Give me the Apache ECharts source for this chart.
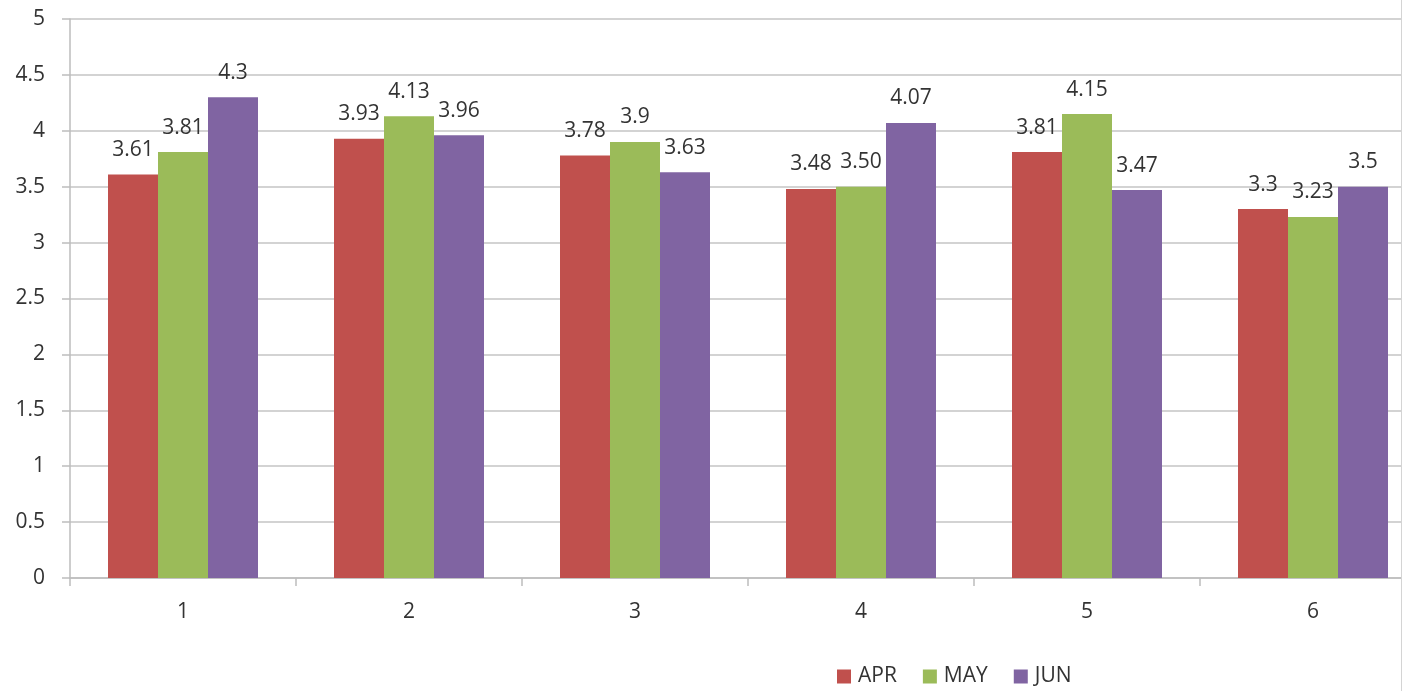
<!DOCTYPE html>
<html>
<head>
<meta charset="utf-8">
<script src="https://cdn.jsdelivr.net/npm/echarts@6/dist/echarts.min.js"></script>
<style>
  html, body { margin: 0; padding: 0; background: #ffffff; overflow: hidden; }
  #wrap { position: absolute; left: 0; top: 0; width: 1401px; height: 691px; overflow: hidden; border-right: 1px solid #d4d4d4; }
  #chart { width: 1450px; height: 691px; }
</style>
</head>
<body>
<div id="wrap"><div id="chart"></div></div>
<script>
const categories = ['1', '2', '3', '4', '5', '6'];
const seriesNames = ['APR', 'MAY', 'JUN'];
const aprValues = [3.61, 3.93, 3.78, 3.48, 3.81, 3.3];
const mayValues = [3.81, 4.13, 3.9, 3.50, 4.15, 3.23];
const junValues = [4.3, 3.96, 3.63, 4.07, 3.47, 3.5];
const aprLabels = ['3.61', '3.93', '3.78', '3.48', '3.81', '3.3'];
const mayLabels = ['3.81', '4.13', '3.9', '3.50', '4.15', '3.23'];
const junLabels = ['4.3', '3.96', '3.63', '4.07', '3.47', '3.5'];
const yTicks = ['0', '0.5', '1', '1.5', '2', '2.5', '3', '3.5', '4', '4.5', '5'];

const colors = ['#C0504D', '#9BBB59', '#8064A2'];
const font = '"Open Sans", "Liberation Sans", sans-serif';
const textColor = '#333333';

function mkSeries(name, values, labels, color) {
  return {
    name: name,
    type: 'bar',
    data: values,
    barWidth: 50,
    barGap: '0%',
    itemStyle: { color: color },
    label: {
      show: true,
      position: 'top',
      distance: 14,
      fontFamily: font,
      fontSize: 21,
      color: textColor,
      formatter: function (p) { return labels[p.dataIndex]; }
    }
  };
}

const chart = echarts.init(document.getElementById('chart'), null, { renderer: 'canvas' });
chart.setOption({
  animation: false,
  backgroundColor: '#ffffff',
  color: colors,
  grid: { left: 70, right: 24, top: 19, bottom: 113, containLabel: false },
  legend: {
    data: seriesNames,
    left: 832,
    top: 661,
    itemWidth: 14,
    itemHeight: 14,
    itemGap: 26,
    icon: 'rect',
    textStyle: { fontFamily: font, fontSize: 21, color: textColor, padding: [0, 0, 0, 2] }
  },
  xAxis: {
    type: 'category',
    data: categories,
    axisLine: { show: true, lineStyle: { color: '#bdbdbd', width: 1.5 } },
    axisTick: { show: true, length: 8, lineStyle: { color: '#bdbdbd', width: 1.5 } },
    axisLabel: { fontFamily: font, fontSize: 21, color: textColor, margin: 24 }
  },
  yAxis: {
    type: 'value',
    min: 0,
    max: 5,
    interval: 0.5,
    axisLine: { show: true, lineStyle: { color: '#bdbdbd', width: 1.5 } },
    axisTick: { show: true, length: 8, lineStyle: { color: '#bdbdbd', width: 1.5 } },
    splitLine: { show: true, lineStyle: { color: '#c4c4c4', width: 1.5 } },
    axisLabel: {
      fontFamily: font, fontSize: 21, color: textColor, margin: 25,
      formatter: function (v) {
        const i = Math.round(v / 0.5);
        return yTicks[i] !== undefined ? yTicks[i] : String(v);
      }
    }
  },
  series: [
    mkSeries(seriesNames[0], aprValues, aprLabels, colors[0]),
    mkSeries(seriesNames[1], mayValues, mayLabels, colors[1]),
    mkSeries(seriesNames[2], junValues, junLabels, colors[2])
  ]
});
</script>
</body>
</html>
